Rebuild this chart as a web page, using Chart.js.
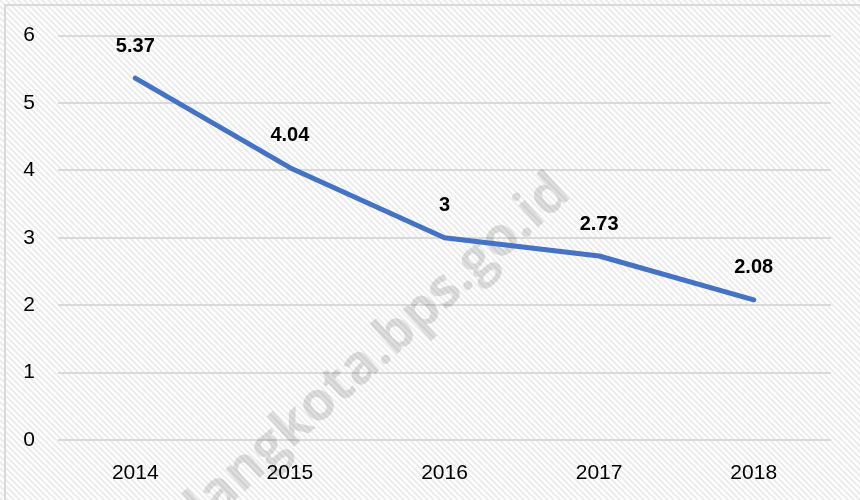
<!DOCTYPE html>
<html>
<head>
<meta charset="utf-8">
<script src="https://cdn.jsdelivr.net/npm/chart.js@4"></script>
<style>
html,body{margin:0;padding:0;background:#fff;}
#wrap{width:860px;height:500px;position:relative;}
</style>
</head>
<body>
<div id="wrap"><canvas id="c" width="860" height="500"></canvas></div>
<script>
const categories = ["2014", "2015", "2016", "2017", "2018"];
const values = [5.37, 4.04, 3, 2.73, 2.08];
const valueLabels = ["5.37", "4.04", "3", "2.73", "2.08"];
const yTicks = [0, 1, 2, 3, 4, 5, 6];
const watermark = "padangkota.bps.go.id";

function makePattern(ctx) {
  const p = document.createElement('canvas');
  p.width = 6; p.height = 6;
  const g = p.getContext('2d');
  g.fillStyle = '#ffffff';
  g.fillRect(0, 0, 6, 6);
  g.strokeStyle = '#ececec';
  g.lineWidth = 2;
  for (let k = -6; k <= 12; k += 6) {
    g.beginPath();
    g.moveTo(k - 1, -1);
    g.lineTo(k + 7, 7);
    g.stroke();
  }
  return ctx.createPattern(p, 'repeat');
}

const bgPlugin = {
  id: 'bg',
  beforeDraw(chart) {
    const ctx = chart.ctx;
    ctx.save();
    ctx.fillStyle = makePattern(ctx);
    ctx.fillRect(0, 0, chart.width, chart.height);
    ctx.strokeStyle = '#d9d9d9';
    ctx.lineWidth = 2;
    ctx.beginPath();
    ctx.moveTo(5, chart.height);
    ctx.lineTo(5, 5);
    ctx.lineTo(chart.width, 5);
    ctx.stroke();
    ctx.restore();
  },
  beforeDatasetsDraw(chart) {
    const ctx = chart.ctx;
    ctx.save();
    ctx.translate(392, 338);
    ctx.rotate(-42 * Math.PI / 180);
    ctx.font = 'bold 54px "Open Sans", "Liberation Sans", sans-serif';
    ctx.fillStyle = 'rgba(0,0,0,0.12)';
    ctx.textAlign = 'center';
    ctx.textBaseline = 'middle';
    ctx.fillText(watermark, -60, 0);
    ctx.restore();
  }
};

const labelPlugin = {
  id: 'vlabels',
  afterDatasetsDraw(chart) {
    const ctx = chart.ctx;
    const meta = chart.getDatasetMeta(0);
    ctx.save();
    ctx.font = 'bold 20px "Liberation Sans", Arial, sans-serif';
    ctx.fillStyle = '#000';
    ctx.textAlign = 'center';
    ctx.textBaseline = 'middle';
    meta.data.forEach((pt, i) => {
      ctx.fillText(valueLabels[i], pt.x, pt.y - 32);
    });
    ctx.restore();
  }
};

new Chart(document.getElementById('c'), {
  type: 'line',
  data: {
    labels: categories,
    datasets: [{
      data: values,
      borderColor: '#4472C4',
      borderWidth: 5,
      borderCapStyle: 'round',
      borderJoinStyle: 'round',
      pointRadius: 0,
      pointHoverRadius: 0,
      tension: 0,
      fill: false
    }]
  },
  options: {
    responsive: false,
    animation: false,
    events: [],
    layout: { padding: { top: 33, right: 29, bottom: 0, left: 0 } },
    plugins: { legend: { display: false }, tooltip: { enabled: false } },
    scales: {
      x: {
        offset: true,
        grid: { display: false, drawTicks: false },
        border: { display: false },
        ticks: {
          color: '#000',
          padding: 21,
          font: { family: '"Liberation Sans", Arial, sans-serif', size: 21 }
        },
        afterFit(s) { s.height = 60; }
      },
      y: {
        min: 0,
        max: 6,
        afterBuildTicks(s) { s.ticks = yTicks.map(v => ({ value: v })); },
        grid: { color: '#d9d9d9', lineWidth: 2, drawTicks: false },
        border: { display: false },
        ticks: {
          color: '#000',
          padding: 23,
          font: { family: '"Liberation Sans", Arial, sans-serif', size: 21 }
        },
        afterFit(s) { s.width = 58; }
      }
    }
  },
  plugins: [bgPlugin, labelPlugin]
});
</script>
</body>
</html>
